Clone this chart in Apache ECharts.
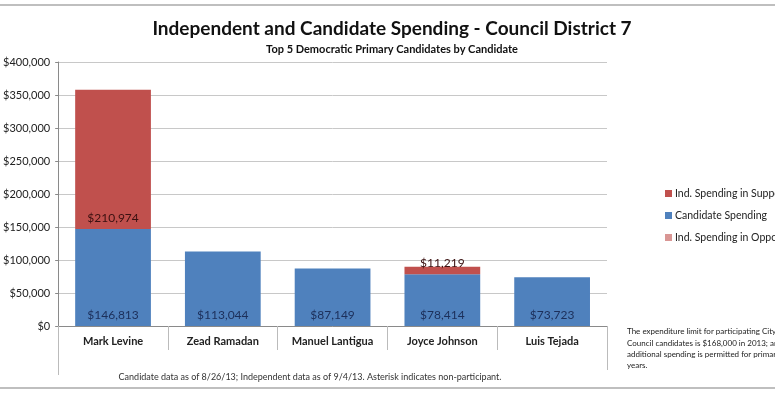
<!DOCTYPE html>
<html>
<head>
<meta charset="utf-8">
<script src="https://cdn.jsdelivr.net/npm/echarts@6/dist/echarts.min.js"></script>
<style>
    html, body { margin: 0; padding: 0; background: #fff; }
    #chart { width: 775px; height: 398px; }
</style>
</head>
<body>
<div id="chart"></div>
<script>
// data
var candidates = ['Mark Levine', 'Zead Ramadan', 'Manuel Lantigua', 'Joyce Johnson', 'Luis Tejada'];
var candidateSpending = [146813, 113044, 87149, 78414, 73723];
var supportSpending = [210974, 0, 0, 11219, 0];
var opposeSpending = [0, 0, 0, 0, 0];
var yTicks = [0, 50000, 100000, 150000, 200000, 250000, 300000, 350000, 400000];

function money(v) {
    return '$' + Math.round(v).toString().replace(/\B(?=(\d{3})+(?!\d))/g, ',');
}

var chart = echarts.init(document.getElementById('chart'));

var option = {
    animation: false,
    textStyle: { fontFamily: 'Lato' },
    title: [{
        text: 'Independent and Candidate Spending - Council District 7',
        left: 387, top: 14, textAlign: 'center',
        textStyle: { fontSize: 19, fontWeight: 'bold', color: '#111', fontFamily: 'Lato' }
    }, {
        text: 'Top 5 Democratic Primary Candidates by Candidate',
        left: 387, top: 39, textAlign: 'center',
        textStyle: { fontSize: 11, fontWeight: 'bold', color: '#111', fontFamily: 'Lato' }
    }],
    legend: {
        orient: 'vertical',
        left: 660, top: 183,
        itemWidth: 7, itemHeight: 7, itemGap: 11,
        icon: 'rect',
        selectedMode: false,
        textStyle: { fontSize: 10.5, color: '#222', padding: [0, 0, 0, -2] },
        data: ['Ind. Spending in Support', 'Candidate Spending', 'Ind. Spending in Opposition']
    },
    grid: { left: 58, right: 168, top: 62, bottom: 72 },
    xAxis: {
        type: 'category',
        data: candidates,
        axisLine: { lineStyle: { color: '#8a8a8a' } },
        axisTick: { show: true, interval: 0, length: 24, lineStyle: { color: '#bbb' } },
        axisLabel: { fontSize: 11, fontWeight: 'bold', color: '#222', margin: 10 }
    },
    yAxis: {
        type: 'value',
        min: 0, max: 400000, interval: 50000,
        axisLine: { show: true, lineStyle: { color: '#8a8a8a' } },
        axisTick: { show: true, length: 3, lineStyle: { color: '#8a8a8a' } },
        splitLine: { lineStyle: { color: '#c8c8c8' } },
        axisLabel: {
            fontSize: 11, color: '#222', margin: 8,
            formatter: function (v) { return yTicks.indexOf(v) >= 0 ? money(v) : ''; }
        }
    },
    series: [{
        name: 'Candidate Spending',
        type: 'bar',
        stack: 'total',
        barWidth: '69%',
        itemStyle: { color: '#4F81BD' },
        label: {
            show: true, position: 'insideBottom', distance: 5,
            fontSize: 12, color: '#1c2f5a',
            formatter: function (p) { return money(p.value); }
        },
        data: candidateSpending
    }, {
        name: 'Ind. Spending in Support',
        type: 'bar',
        stack: 'total',
        itemStyle: { color: '#C0504D' },
        label: {
            show: true, position: 'insideBottom', distance: 5,
            fontSize: 12, color: '#3a1010',
            formatter: function (p) { return p.value ? money(p.value) : ''; }
        },
        data: supportSpending
    }, {
        name: 'Ind. Spending in Opposition',
        type: 'bar',
        stack: 'total',
        itemStyle: { color: '#D99694' },
        data: opposeSpending
    }],
    graphic: [
        { type: 'line', shape: { x1: 0, y1: 5, x2: 775, y2: 5 }, style: { stroke: '#aaa', lineWidth: 1.5 } },
        { type: 'line', shape: { x1: 0, y1: 388, x2: 775, y2: 388 }, style: { stroke: '#aaa', lineWidth: 1.5 } },
        { type: 'line', shape: { x1: 58.5, y1: 326, x2: 58.5, y2: 375 }, style: { stroke: '#bbb', lineWidth: 1 } },
        { type: 'line', shape: { x1: 607.5, y1: 326, x2: 607.5, y2: 370 }, style: { stroke: '#bbb', lineWidth: 1 } },
        {
            type: 'text',
            style: {
                x: 310, y: 377,
                text: 'Candidate data as of 8/26/13; Independent data as of 9/4/13. Asterisk indicates non-participant.',
                font: '9px Lato', fill: '#333', align: 'center', verticalAlign: 'middle'
            }
        },
        {
            type: 'text',
            style: {
                x: 627, y: 326,
                text: 'The expenditure limit for participating City\nCouncil candidates is $168,000 in 2013; an\nadditional spending is permitted for primary\nyears.',
                font: '8px Lato', fill: '#222', lineHeight: 11.3
            }
        }
    ]
};

chart.setOption(option);
</script>
</body>
</html>
